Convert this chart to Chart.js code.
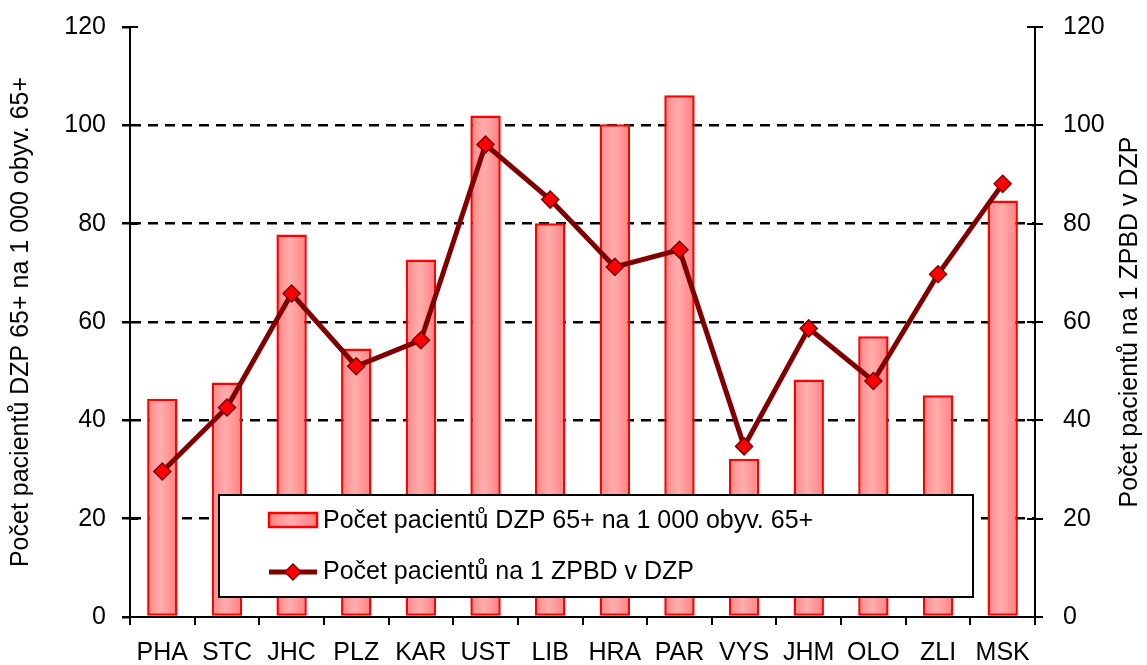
<!DOCTYPE html>
<html>
<head>
<meta charset="utf-8">
<script src="https://cdn.jsdelivr.net/npm/chart.js@4/dist/chart.umd.min.js"></script>
<style>
  html, body { margin: 0; padding: 0; background: #fff; }
  #wrap { width: 1147px; height: 665px; }
</style>
</head>
<body>
<div id="wrap"><canvas id="chart" width="1147" height="665"></canvas></div>
<script>
// kraje
const categories = ['PHA', 'STC', 'JHC', 'PLZ', 'KAR', 'UST', 'LIB', 'HRA', 'PAR', 'VYS', 'JHM', 'OLO', 'ZLI', 'MSK'];

// sloupce: pacienti DZP 65+ na 1 000 obyv. 65+
const pacientiNa1000 = [44.4, 47.7, 77.8, 54.6, 72.7, 102.0, 80.1, 100.2, 106.1, 32.2, 48.3, 57.1, 45.1, 84.7];

// linka: pacienti na 1 ZPBD v DZP
const pacientiNaZpbd = [29.6, 42.6, 65.8, 51.0, 56.3, 96.1, 84.9, 71.2, 74.7, 34.7, 58.7, 48.0, 69.7, 88.1];

const yTicks = [0, 20, 40, 60, 80, 100, 120];

const labelBar = 'Počet pacientů DZP 65+ na 1 000 obyv. 65+';
const labelLine = 'Počet pacientů na 1 ZPBD v DZP';
const titleLeft = 'Počet pacientů DZP 65+ na 1 000 obyv. 65+';
const titleRight = 'Počet pacientů na 1 ZPBD v DZP';

const FONT = '"Liberation Sans", Arial, sans-serif';
const FS = 25;
const BAR_PCT = 0.47;
const LINE_COLOR = '#800000';

function barGradient(ctx, x0, x1) {
  const g = ctx.createLinearGradient(x0, 0, x1, 0);
  g.addColorStop(0, '#ff8585');
  g.addColorStop(0.45, '#ffadad');
  g.addColorStop(1, '#ff8080');
  return g;
}

function barFill(c) {
  const chart = c.chart;
  const xs = chart.scales && chart.scales.x;
  if (!chart.chartArea || !xs || c.type !== 'data') return '#ff9a9a';
  const cx = xs.getPixelForValue(c.dataIndex);
  const w = xs.width / categories.length * BAR_PCT;
  return barGradient(chart.ctx, cx - w / 2, cx + w / 2);
}

// pevne rozmery osy y, bez extra odsazeni nahore/dole
function fixY(width) {
  return s => {
    s.width = width;
    s.paddingTop = 0;
    s.paddingBottom = 0;
  };
}

// vnitrni casti znacek na osach y (krizove znacky)
const innerTicks = {
  id: 'innerTicks',
  afterDraw(chart) {
    const ctx = chart.ctx;
    const a = chart.chartArea;
    const y = chart.scales.y;
    ctx.save();
    ctx.strokeStyle = '#000';
    ctx.lineWidth = 2;
    yTicks.forEach(v => {
      const py = Math.round(y.getPixelForValue(v));
      ctx.beginPath();
      ctx.moveTo(a.left, py); ctx.lineTo(a.left + 8, py);
      ctx.moveTo(a.right - 8, py); ctx.lineTo(a.right, py);
      ctx.stroke();
    });
    ctx.restore();
  }
};

// legenda uvnitr grafu + titulek prave osy
const boxLegend = {
  id: 'boxLegend',
  afterDraw(chart) {
    const ctx = chart.ctx;
    const a = chart.chartArea;
    ctx.save();
    // ramecek
    ctx.fillStyle = '#fff';
    ctx.fillRect(219, 495, 754, 102);
    ctx.strokeStyle = '#000';
    ctx.lineWidth = 2;
    ctx.strokeRect(219, 495, 754, 102);

    // vzorek sloupce
    ctx.fillStyle = barGradient(ctx, 269, 317);
    ctx.fillRect(269, 513, 48, 14);
    ctx.strokeStyle = '#ff0000';
    ctx.lineWidth = 2.5;
    ctx.strokeRect(269, 513, 48, 14);

    // vzorek linky
    ctx.strokeStyle = LINE_COLOR;
    ctx.lineWidth = 5;
    ctx.beginPath();
    ctx.moveTo(269, 572); ctx.lineTo(317, 572);
    ctx.stroke();
    ctx.fillStyle = '#ff0000';
    ctx.strokeStyle = LINE_COLOR;
    ctx.lineWidth = 1.5;
    ctx.beginPath();
    ctx.moveTo(293, 564); ctx.lineTo(301, 572); ctx.lineTo(293, 580); ctx.lineTo(285, 572);
    ctx.closePath();
    ctx.fill(); ctx.stroke();

    ctx.fillStyle = '#000';
    ctx.font = FS + 'px ' + FONT;
    ctx.textAlign = 'left';
    ctx.textBaseline = 'middle';
    ctx.fillText(chart.data.datasets[1].label, 323, 521);
    ctx.fillText(chart.data.datasets[0].label, 323, 572);

    // titulek prave osy (cte se zdola nahoru)
    ctx.translate(1130, (a.top + a.bottom) / 2);
    ctx.rotate(-Math.PI / 2);
    ctx.textAlign = 'center';
    ctx.fillText(titleRight, 0, 0);
    ctx.restore();
  }
};

new Chart(document.getElementById('chart'), {
  data: {
    labels: categories,
    datasets: [
      {
        type: 'line',
        label: labelLine,
        data: pacientiNaZpbd,
        yAxisID: 'y2',
        order: 0,
        borderColor: LINE_COLOR,
        borderWidth: 5,
        tension: 0,
        pointStyle: 'rectRot',
        pointRadius: 8.5,
        pointBackgroundColor: '#ff0000',
        pointBorderColor: LINE_COLOR,
        pointBorderWidth: 1.5
      },
      {
        type: 'bar',
        label: labelBar,
        data: pacientiNa1000,
        yAxisID: 'y',
        order: 1,
        backgroundColor: barFill,
        borderColor: '#ff0000',
        borderWidth: 2.5,
        borderSkipped: false,
        categoryPercentage: 1,
        barPercentage: BAR_PCT
      }
    ]
  },
  options: {
    responsive: false,
    animation: false,
    layout: { padding: { top: 27, left: 0, right: 0, bottom: 0 } },
    plugins: {
      legend: { display: false },
      tooltip: { enabled: false }
    },
    scales: {
      x: {
        offset: true,
        grid: {
          offset: true,
          drawOnChartArea: false,
          color: '#000',
          lineWidth: 2,
          tickLength: 8
        },
        border: { color: '#000', width: 2 },
        ticks: {
          color: '#000',
          font: { family: FONT, size: FS },
          padding: 13,
          maxRotation: 0
        },
        afterFit(s) { s.height = 48; }
      },
      y: {
        position: 'left',
        min: 0,
        max: 120,
        afterBuildTicks(s) { s.ticks = yTicks.map(v => ({ value: v })); },
        grid: {
          color: c => (c.tick && (c.tick.value === 0 || c.tick.value === 120)) ? 'rgba(0,0,0,0)' : '#000',
          tickColor: '#000',
          lineWidth: 2.5,
          tickLength: 8
        },
        border: { color: '#000', width: 2, dash: [10, 7] },
        ticks: {
          color: '#000',
          font: { family: FONT, size: FS },
          padding: 16
        },
        title: {
          display: true,
          text: titleLeft,
          color: '#000',
          font: { family: FONT, size: FS, weight: 'normal' },
          padding: { top: 6, bottom: 0 }
        },
        afterFit: fixY(130)
      },
      y2: {
        position: 'right',
        min: 0,
        max: 120,
        afterBuildTicks(s) { s.ticks = yTicks.map(v => ({ value: v })); },
        grid: {
          drawOnChartArea: false,
          color: '#000',
          lineWidth: 2,
          tickLength: 8
        },
        border: { color: '#000', width: 2 },
        ticks: {
          color: '#000',
          font: { family: FONT, size: FS },
          padding: 20
        },
        afterFit: fixY(112)
      }
    }
  },
  plugins: [innerTicks, boxLegend]
});
</script>
</body>
</html>
